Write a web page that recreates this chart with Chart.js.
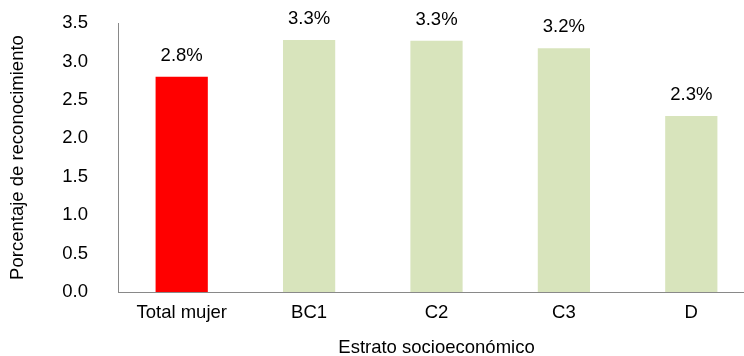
<!DOCTYPE html>
<html>
<head>
<meta charset="utf-8">
<script src="https://cdn.jsdelivr.net/npm/chart.js@4"></script>
<style>
  html, body { margin: 0; padding: 0; background: #fff; overflow: hidden; }
  #wrap { width: 760px; height: 356px; }
</style>
</head>
<body>
<div id="wrap"><canvas id="myChart" width="760" height="356"></canvas></div>
<script>
// Datos
const categorias = ['Total mujer', 'BC1', 'C2', 'C3', 'D'];
const valores = [2.8, 3.28, 3.27, 3.17, 2.29];
const etiquetas = ['2.8%', '3.3%', '3.3%', '3.2%', '2.3%'];
const colores = ['#ff0000', '#d8e4bc', '#d8e4bc', '#d8e4bc', '#d8e4bc'];

const fuente = 'Liberation Sans, Arial, sans-serif';
const gris = '#898989';

// Escribe el valor encima de cada barra
const etiquetasPlugin = {
    id: 'etiquetas',
    afterDatasetsDraw(chart){
        const ctx = chart.ctx;
        const meta = chart.getDatasetMeta(0);
        ctx.save();
        ctx.font = '18.5px ' + fuente;
        ctx.fillStyle = '#000';
        ctx.textAlign = 'center';
        ctx.textBaseline = 'middle';
        meta.data.forEach((bar, i) => {
            ctx.fillText(etiquetas[i], bar.x, bar.y - 21);
        });
        ctx.restore();
    }
};

new Chart(document.getElementById('myChart'), {
    type: 'bar',
    data: {
        labels: categorias,
        datasets: [{
            data: valores,
            backgroundColor: colores,
            barPercentage: 0.41,
            categoryPercentage: 1
        }]
    },
    options: {
        responsive: false,
        animation: false,
        layout: { padding: { top: 23, right: 5, left: 0, bottom: 0 } },
        plugins: { legend: { display: false }, tooltip: { enabled: false } },
        scales: {
            y: {
                min: 0,
                max: 3.5,
                grid: { display: false, drawTicks: false },
                border: { color: gris, width: 1 },
                ticks: {
                    stepSize: 0.5,
                    padding: 30,
                    color: '#000',
                    font: { family: fuente, size: 18.5 },
                    callback: v => v.toFixed(1)
                },
                title: {
                    display: true,
                    text: 'Porcentaje de reconocimiento',
                    color: '#000',
                    font: { family: fuente, size: 18.5 },
                    padding: { top: 7, bottom: 0 }
                },
                // el padding de los ticks no debe mover el area del grafico
                afterFit: s => { s.width = 118; s.paddingTop = 0; s.paddingBottom = 0; }
            },
            x: {
                grid: { display: false, drawTicks: false },
                border: { color: gris, width: 1 },
                ticks: {
                    padding: 10,
                    color: '#000',
                    font: { family: fuente, size: 18.5 }
                },
                title: {
                    display: true,
                    text: 'Estrato socioeconómico',
                    color: '#000',
                    font: { family: fuente, size: 18.5 },
                    padding: { top: 10, bottom: -3 }
                },
                afterFit: s => { s.height = 64; }
            }
        }
    },
    plugins: [etiquetasPlugin]
});
</script>
</body>
</html>
